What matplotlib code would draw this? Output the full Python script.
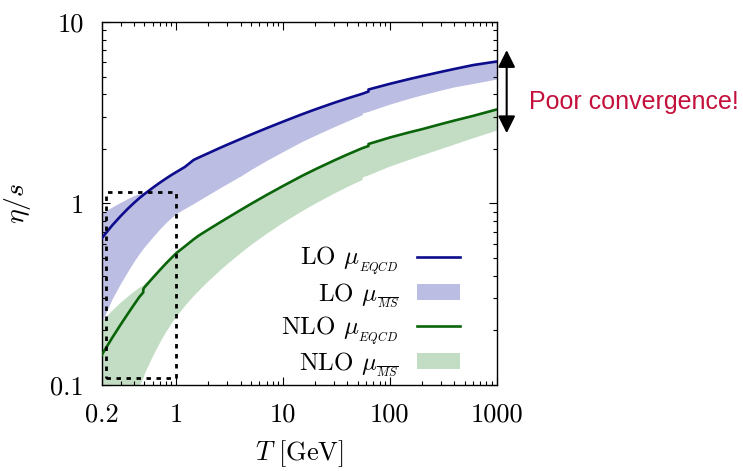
import matplotlib
matplotlib.use('Agg')
import matplotlib.pyplot as plt
from matplotlib.lines import Line2D
from matplotlib.patches import Patch
from matplotlib.ticker import FixedLocator, LogLocator, NullFormatter

plt.rcParams['font.family'] = 'cmr10'
plt.rcParams['mathtext.fontset'] = 'cm'
plt.rcParams['axes.unicode_minus'] = False

# LO, scale fixed from EQCD matching
T_lo = [0.2, 0.25, 0.3, 0.35, 0.4, 0.45, 0.5, 0.6, 0.7, 0.8, 0.9, 1, 1.2, 1.45, 1.7,
        2, 2.5, 3, 4, 5, 7, 10, 15, 20, 30, 40, 55, 63, 63, 100, 150, 200, 300,
        400, 600, 1000]
lo_eqcd = [0.643, 0.756, 0.851, 0.934, 1.006, 1.070, 1.125, 1.220, 1.302, 1.373,
           1.436, 1.491, 1.589, 1.737, 1.815, 1.895, 2.012, 2.109, 2.267, 2.397,
           2.600, 2.827, 3.101, 3.300, 3.588, 3.794, 4.021, 4.140, 4.247, 4.565,
           4.841, 5.035, 5.311, 5.508, 5.788, 6.059]

# LO, MSbar scale variation band
T_lo_band = [0.2, 0.25, 0.3, 0.35, 0.4, 0.45, 0.5, 0.6, 0.7, 0.8, 0.9, 1, 1.2, 1.45,
             1.7, 2, 2.5, 3, 4, 5, 7, 10, 15, 20, 30, 40, 55, 55, 63, 63, 100, 150,
             200, 300, 400, 600, 1000]
lo_msbar_hi = [0.883, 0.957, 1.015, 1.064, 1.105, 1.135, 1.128, 1.220, 1.302, 1.373,
               1.436, 1.491, 1.589, 1.737, 1.815, 1.895, 2.012, 2.109, 2.267, 2.397,
               2.600, 2.827, 3.101, 3.300, 3.588, 3.794, 4.021, 4.021, 4.140, 4.247,
               4.565, 4.841, 5.035, 5.311, 5.508, 5.788, 6.059]
lo_msbar_lo = [0.2224, 0.2977, 0.3624, 0.4220, 0.4792, 0.5303, 0.5758, 0.6536,
               0.7236, 0.7858, 0.8374, 0.8808, 0.9386, 1.000, 1.057, 1.119, 1.210,
               1.287, 1.417, 1.539, 1.726, 1.934, 2.196, 2.378, 2.649, 2.852, 3.086,
               3.150, 3.220, 3.220, 3.530, 3.790, 3.970, 4.216, 4.391, 4.584, 4.853]

# NLO, scale fixed from EQCD matching
T_nlo = [0.2, 0.25, 0.3, 0.35, 0.4, 0.45, 0.49, 0.49, 0.5, 0.6, 0.7, 0.8, 0.9, 1,
         1.2, 1.45, 1.6, 1.7, 2, 2.5, 3, 4, 5, 7, 10, 15, 20, 30, 40, 55, 63, 63,
         100, 150, 200, 300, 400, 600, 1000]
nlo_eqcd = [0.1463, 0.1815, 0.2146, 0.2461, 0.2763, 0.3054, 0.3237, 0.3358, 0.3440,
            0.3887, 0.4296, 0.4677, 0.5014, 0.5329, 0.5801, 0.6342, 0.6621, 0.6775,
            0.7192, 0.7798, 0.8320, 0.9209, 0.995, 1.114, 1.250, 1.419, 1.543,
            1.726, 1.862, 2.017, 2.074, 2.127, 2.310, 2.462, 2.567, 2.738, 2.862,
            3.038, 3.296]

# NLO, MSbar scale variation band
T_nlo_band = [0.2, 0.25, 0.3, 0.35, 0.4, 0.45, 0.49, 0.5, 0.6, 0.7, 0.8, 0.9, 1, 1.2,
              1.45, 1.6, 1.7, 2, 2.5, 3, 4, 5, 7, 10, 15, 20, 30, 40, 55, 55, 63, 63,
              100, 150, 200, 300, 400, 600, 1000]
nlo_msbar_hi = [0.2266, 0.2589, 0.2867, 0.3093, 0.3295, 0.3467, 0.3556, 0.3624,
                0.3962, 0.4329, 0.4677, 0.5014, 0.5329, 0.5801, 0.6342, 0.6621,
                0.6775, 0.7192, 0.7798, 0.8320, 0.9209, 0.995, 1.114, 1.250, 1.419,
                1.543, 1.726, 1.862, 2.017, 2.017, 2.074, 2.127, 2.310, 2.462, 2.567,
                2.738, 2.862, 3.038, 3.296]
nlo_msbar_lo = [0.030, 0.038, 0.048, 0.063, 0.082, 0.100, 0.1105, 0.1157, 0.1456,
                0.1732, 0.1984, 0.2207, 0.2408, 0.2753, 0.3120, 0.3311, 0.3436,
                0.3770, 0.4258, 0.4677, 0.5378, 0.5959, 0.6870, 0.7900, 0.9140,
                1.006, 1.143, 1.244, 1.358, 1.400, 1.440, 1.440, 1.610, 1.750, 1.855,
                2.009, 2.127, 2.305, 2.541]

# zoom window (low-T region)
box_T = [0.219, 1.0]
box_eta = [0.109, 1.15]

x_ticks = [0.2, 1, 10, 100, 1000]
x_ticklabels = ['0.2', '1', '10', '100', '1000']
y_ticks = [0.1, 1, 10]
y_ticklabels = ['0.1', '1', '10']

BLUE = '#0c0c8c'
LAVENDER = '#bcbde2'
GREEN = '#0a640a'
LIGHTGREEN = '#c3ddc4'
RED = '#c4103c'

fig = plt.figure(figsize=(7.43, 4.71), dpi=100)
ax = fig.add_axes([0.1369, 0.1826, 0.5316, 0.7707])

ax.fill_between(T_lo_band, lo_msbar_lo, lo_msbar_hi, color=LAVENDER, lw=0, zorder=1)
ax.fill_between(T_nlo_band, nlo_msbar_lo, nlo_msbar_hi, color=LIGHTGREEN, lw=0, zorder=1)
ax.plot(T_lo, lo_eqcd, color=BLUE, lw=1.9, zorder=3)
ax.plot(T_nlo, nlo_eqcd, color=GREEN, lw=1.9, zorder=3)

bx = [box_T[0], box_T[1], box_T[1], box_T[0], box_T[0]]
by = [box_eta[0], box_eta[0], box_eta[1], box_eta[1], box_eta[0]]
ax.plot(bx, by, color='k', lw=2.0, ls=(0, (1.6, 2.0)), zorder=4)

ax.set_xscale('log')
ax.set_yscale('log')
ax.set_xlim(0.2, 1000)
ax.set_ylim(0.1, 10)

ax.xaxis.set_major_locator(FixedLocator(x_ticks))
ax.set_xticklabels(x_ticklabels)
ax.xaxis.set_minor_locator(LogLocator(base=10, subs=range(2, 10), numticks=20))
ax.xaxis.set_minor_formatter(NullFormatter())
ax.yaxis.set_major_locator(FixedLocator(y_ticks))
ax.set_yticklabels(y_ticklabels)
ax.yaxis.set_minor_locator(LogLocator(base=10, subs=range(2, 10), numticks=20))
ax.yaxis.set_minor_formatter(NullFormatter())

ax.tick_params(which='both', direction='in', top=True, right=True, width=0.8)
ax.tick_params(which='major', length=5.8, labelsize=19, pad=13)
ax.tick_params(which='minor', length=2.9)
for s in ax.spines.values():
    s.set_linewidth(1.0)

ax.set_xlabel(r'$T\ [\mathrm{GeV}]$', fontsize=19, labelpad=8)
ax.set_ylabel(r'$\eta/s$', fontsize=20, labelpad=12)

handles = [
    Line2D([], [], color=BLUE, lw=1.9),
    Patch(facecolor=LAVENDER, lw=0),
    Line2D([], [], color=GREEN, lw=1.9),
    Patch(facecolor=LIGHTGREEN, lw=0),
]
labels = [
    r'LO $\mu_{_{EQCD}}$',
    r'LO $\mu_{_{\overline{MS}}}$',
    r'NLO $\mu_{_{EQCD}}$',
    r'NLO $\mu_{_{\overline{MS}}}$',
]
ax.legend(handles, labels, loc='lower right', bbox_to_anchor=(0.945, -0.025),
          markerfirst=False, frameon=False, fontsize=18, handlelength=1.7,
          handleheight=0.6, handletextpad=0.75, labelspacing=0.17,
          borderaxespad=0.2)

# spread between the two orders at the highest temperature
ax.annotate('', xy=(1240, 7.0), xytext=(1240, 2.44), xycoords='data',
            arrowprops=dict(arrowstyle='<|-|>', color='k', lw=1.5,
                            mutation_scale=26, shrinkA=0, shrinkB=0),
            annotation_clip=False)
ax.text(2005, 3.64, 'Poor convergence!', color=RED, fontsize=18,
        family='Liberation Sans', ha='left', va='center', clip_on=False)

fig.savefig('out.png', dpi=100)
